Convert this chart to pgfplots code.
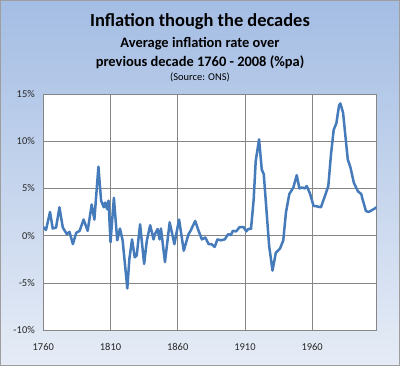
\documentclass[border=0pt]{standalone}
\usepackage{pgfplots}
\pgfplotsset{compat=1.18}
\usepackage{fontspec}
\setmainfont{Carlito}
\definecolor{bgtop}{RGB}{164,189,228}
\definecolor{bgbot}{RGB}{230,236,246}
\definecolor{linecol}{RGB}{70,123,187}
\definecolor{gridc}{RGB}{134,134,134}
\begin{document}
\begin{tikzpicture}
\useasboundingbox (0bp,0bp) rectangle (400bp,-366bp);
\shade[top color=bgtop,bottom color=bgbot] (0bp,0bp) rectangle (400bp,-366bp);
\draw[gridc!80,line width=0.8bp] (0.5bp,-0.5bp) rectangle (399.5bp,-365.5bp);
\node[anchor=base,inner sep=0pt,font=\fontsize{18.5}{20}\selectfont\bfseries] at (200bp,-26bp) {Inflation though the decades};
\node[anchor=base,inner sep=0pt,font=\fontsize{14.5}{15}\selectfont\bfseries] at (200bp,-47bp) {Average inflation rate over};
\node[anchor=base,inner sep=0pt,font=\fontsize{14.5}{15}\selectfont\bfseries] at (200bp,-66bp) {previous decade 1760 - 2008 (\%pa)};
\node[anchor=base,inner sep=0pt,font=\fontsize{10.5}{11}\selectfont] at (200bp,-80bp) {(Source: ONS)};
\begin{axis}[
  at={(43.3bp,-330bp)}, anchor=south west,
  width=333.4bp, height=236bp, scale only axis,
  xmin=1760, xmax=2008, ymin=-10, ymax=15,
  axis background/.style={fill=white},
  axis line style={gridc, line width=0.6bp},
  grid=major, major grid style={gridc, line width=0.6bp},
  xtick={1760,1810,1860,1910,1960},
  ytick={-10,-5,0,5,10,15},
  major tick length=0pt,
  /pgf/number format/assume math mode=true,
  /pgf/number format/1000 sep={},
  yticklabel={\pgfmathprintnumber{\tick}\%},
  xticklabel style={font=\fontsize{10.5}{12}\selectfont, yshift=-10bp, text=black!85},
  yticklabel style={font=\fontsize{10.5}{12}\selectfont, xshift=-5bp, text=black!85},
]
\addplot[linecol, line width=2.5bp, line join=round, line cap=round] coordinates {
(1760,0.9) (1762,0.6) (1765,2.5) (1767,0.75) (1769.5,0.85) (1772,3.0) (1774.5,0.86)
(1777.5,0.15) (1779.5,0.4) (1782,-0.9) (1784.5,0.3) (1787,0.5) (1790,1.7) (1793,0.5)
(1796,3.3) (1798,1.7) (1801,7.3) (1803,3.7) (1805,3.0) (1806,3.5) (1807.5,2.8)
(1808.5,3.7) (1810,-0.7) (1812.5,4.0) (1815,-0.5) (1817,0.75) (1819,-0.5) (1822.5,-5.6)
(1824,-2.5) (1826,-0.4) (1828,-2.3) (1829.5,-2.1) (1832,1.2) (1835,-3.0) (1837,-0.55)
(1839.5,1.1) (1842,-0.4) (1843,0.15) (1845,0.7) (1846.5,-0.4) (1847.5,0.75) (1850.5,-2.8)
(1854,1.4) (1857.5,-0.9) (1861,1.7) (1864.5,-1.6) (1868,0.15) (1869.5,0.5) (1873,1.55)
(1875.5,0.5) (1878,-0.4) (1880.5,-0.2) (1883,-0.9) (1885,-0.9) (1887.5,-1.2) (1889.5,-0.4)
(1892,-0.5) (1895,-0.4) (1897.5,0.15) (1899.5,0.05) (1901,0.5) (1903.5,0.45) (1906,0.9)
(1909,0.9) (1911,0.45) (1912.5,0.7) (1914.5,0.7) (1916.5,3.85) (1918,7.9) (1920.5,10.2)
(1922.5,7.0) (1924,6.5) (1928,-1.1) (1930.5,-3.7) (1933,-1.8) (1936,-1.4) (1938.5,-0.5)
(1940.5,2.45) (1943,4.4) (1946,5.1) (1948.5,6.4) (1950.5,5.0) (1952.5,5.1) (1954.5,5.0)
(1956,5.25) (1958.5,4.4) (1961,3.15) (1963.5,3.1) (1966.5,3.0) (1969.5,4.2) (1972,5.25)
(1974,8.6) (1976,11.2) (1978,11.9) (1980,13.8) (1981,14.0) (1983,13.0) (1985.5,9.45)
(1986.5,8.05) (1988.5,7.2) (1991,5.6) (1994,4.7) (1996.5,4.4) (1997.5,3.85) (2000,2.6)
(2002,2.5) (2004.5,2.7) (2008,3.0)
};
\end{axis}
\end{tikzpicture}
\end{document}
